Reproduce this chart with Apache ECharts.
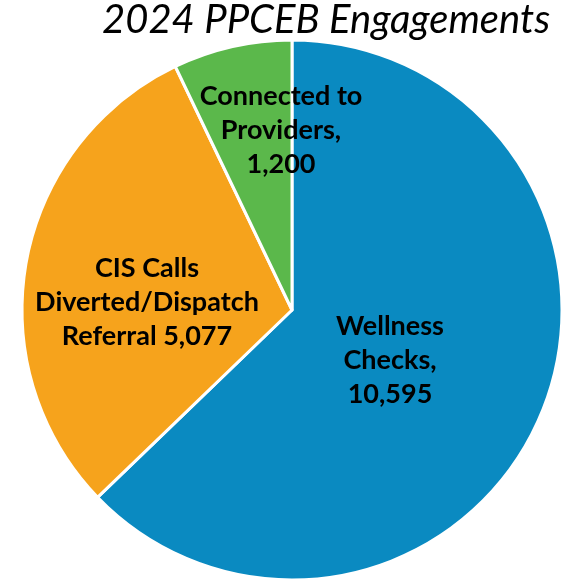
<!DOCTYPE html>
<html>
<head>
<meta charset="utf-8">
<script src="https://cdn.jsdelivr.net/npm/echarts@6/dist/echarts.min.js"></script>
<style>html,body{margin:0;padding:0;background:#fff}#c{width:569px;height:579px}</style>
</head>
<body>
<div id="c"></div>
<script>
var categories = ['Wellness Checks', 'CIS Calls Diverted/Dispatch Referral', 'Connected to Providers'];
var values = [10595, 5077, 1200];
var labelTexts = ['Wellness\nChecks,\n10,595', 'CIS Calls\nDiverted/Dispatch\nReferral 5,077', 'Connected to\nProviders,\n1,200'];
var colors = ['#0a8ac1', '#f6a31c', '#5bb84b'];
var labelPos = [[390, 360], [147, 302], [281, 130]];

var chart = echarts.init(document.getElementById('c'), null, {renderer: 'canvas'});
chart.setOption({
  animation: false,
  title: {
    text: '2024 PPCEB Engagements',
    left: 97, top: -5,
    textStyle: {fontFamily: 'Lato', fontStyle: 'italic', fontWeight: 'normal', fontSize: 40, color: '#000'}
  },
  series: [{
    type: 'pie',
    center: [292, 310],
    radius: 270,
    startAngle: 90,
    clockwise: true,
    data: categories.map(function (c, i) {
      return {name: c, value: values[i], itemStyle: {color: colors[i]}};
    }),
    itemStyle: {borderColor: '#fff', borderWidth: 3},
    label: {
      show: true,
      position: 'inside',
      formatter: function (p) { return labelTexts[p.dataIndex]; },
      fontFamily: 'Lato', fontWeight: 'bold', fontSize: 27, lineHeight: 34,
      color: '#000', align: 'center'
    },
    labelLine: {show: false},
    labelLayout: function (p) {
      return {x: labelPos[p.dataIndex][0], y: labelPos[p.dataIndex][1], align: 'center', verticalAlign: 'middle'};
    },
    emphasis: {disabled: true}
  }]
});
</script>
</body>
</html>
